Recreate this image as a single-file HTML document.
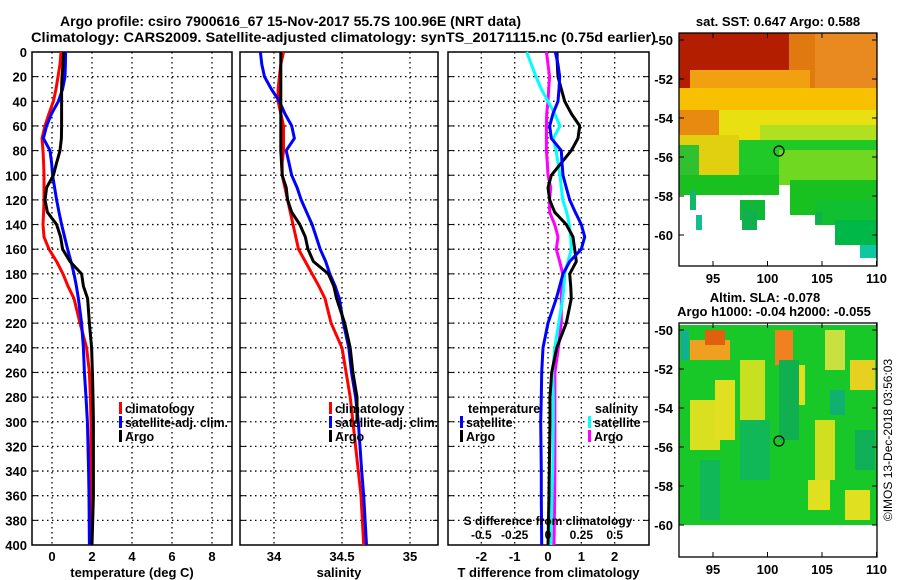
<!DOCTYPE html>
<html><head><meta charset="utf-8"><style>
body{margin:0;background:#fff;}
svg{display:block;font-family:"Liberation Sans",sans-serif;font-weight:bold;}
</style></head><body>
<svg id="c" width="900" height="580" viewBox="0 0 900 580">
<text x="60" y="26" font-size="14" textLength="461" lengthAdjust="spacingAndGlyphs">Argo profile: csiro 7900616_67 15-Nov-2017 55.7S 100.96E (NRT data)</text>
<text x="31" y="42" font-size="14" textLength="625" lengthAdjust="spacingAndGlyphs">Climatology: CARS2009. Satellite-adjusted climatology: synTS_20171115.nc (0.75d earlier)</text>
</svg>
<script>
const depths=[0,10,20,30,40,50,60,70,80,90,100,110,120,130,140,150,160,170,180,190,200,220,240,260,280,300,340,360,400];
const tClim=[0.45,0.4,0.3,0.2,0.07,-0.15,-0.35,-0.5,-0.45,-0.42,-0.4,-0.4,-0.4,-0.42,-0.45,-0.4,-0.15,0.23,0.55,0.8,1.1,1.4,1.73,1.87,1.92,1.95,1.95,1.95,1.95];
const tSat=[0.68,0.67,0.65,0.53,0.32,-0.02,-0.27,-0.43,-0.1,-0.02,0.03,0.13,0.23,0.35,0.48,0.63,0.78,0.95,1.1,1.22,1.32,1.48,1.57,1.62,1.7,1.77,1.83,1.85,1.87];
const tArgo=[0.58,0.55,0.5,0.48,0.48,0.48,0.48,0.47,0.4,0.23,0.07,-0.27,-0.35,-0.23,0.23,0.43,0.53,0.9,1.48,1.57,1.78,1.87,1.98,2.02,2.05,2.07,2.07,2.07,2.0];
const sClim=[34.07,34.05,34.04,34.03,34.03,34.05,34.07,34.07,34.07,34.06,34.06,34.08,34.10,34.12,34.14,34.16,34.18,34.23,34.28,34.33,34.375,34.42,34.50,34.53,34.56,34.58,34.62,34.64,34.66];
const sSat=[33.9,33.91,33.93,33.98,34.04,34.08,34.13,34.15,34.09,34.11,34.13,34.17,34.2,34.24,34.28,34.31,34.34,34.38,34.41,34.45,34.48,34.51,34.55,34.57,34.6,34.62,34.645,34.66,34.68];
const sArgo=[34.05,34.05,34.05,34.05,34.05,34.05,34.05,34.05,34.05,34.055,34.06,34.09,34.10,34.13,34.19,34.23,34.25,34.29,34.40,34.44,34.46,34.52,34.56,34.58,34.61,34.61,null,null,null];
const dTSat=[0.22,0.3,0.35,0.33,0.3,0.15,0.05,0.1,0.4,0.42,0.45,0.55,0.65,0.82,1.0,1.1,1.0,0.65,0.45,0.35,0.25,0,-0.15,-0.19,-0.2,-0.22,-0.2,-0.2,-0.19];
const dTArgo=[0.27,0.28,0.3,0.4,0.5,0.7,0.95,0.9,0.7,0.4,0.1,0,0.05,0.2,0.55,0.75,0.8,0.85,0.65,0.68,0.7,0.55,0.26,0.11,0.06,0.06,0.04,0.03,0.0];
const dSSat=[-0.16,-0.125,-0.09,-0.05,0,0.05,0.09,0.04,0.06,0.075,0.09,0.1,0.11,0.14,0.16,0.17,0.175,0.15,0.125,0.12,0.11,0.08,0.05,0.035,0.04,0.04,0.035,0.03,0.022];
const dSArgo=[-0.012,0,0.012,0.005,0,-0.01,-0.012,-0.012,-0.012,-0.005,0,0.02,0.012,0.012,0.05,0.075,0.062,0.088,0.11,0.1,0.1,0.1,0.078,0.052,0.052,0.052,0.052,0.05,0.045];
const depthTicks=[0,20,40,60,80,100,120,140,160,180,200,220,240,260,280,300,320,340,360,380,400];
const tTicks=[0,2,4,6,8];
const sTicks=[34,34.5,35];
const sTickLabels=["34","34.5","35"];
const dTTicks=[-2,-1,0,1,2];
const dSTicks=[-0.5,-0.25,0,0.25,0.5];
const latTicks=[-50,-52,-54,-56,-58,-60];
const lonTicks=[95,100,105,110];

const NS='http://www.w3.org/2000/svg';
const svg=document.getElementById('c');
function mk(tag,attrs,parent){const e=document.createElementNS(NS,tag);for(const k in attrs)e.setAttribute(k,attrs[k]);(parent||svg).appendChild(e);return e;}
const Y=d=>52+d*1.2325;
const panels=[
 {x0:32,x1:232,lo:-1,hi:9,name:'temperature'},
 {x0:240,x1:438,lo:33.75,hi:35.206,name:'salinity'},
 {x0:448,x1:649,lo:-3,hi:3.03,name:'difference'}];
function X(p,v){return p.x0+(v-p.lo)/(p.hi-p.lo)*(p.x1-p.x0);}
const Ys=v=>X(panels[2],v*4);

function drawPanel(p,ticks,labels,xlabel){
  const g=mk('g',{});
  
  
  depthTicks.forEach(d=>{if(d>0&&d<400)mk('line',{x1:p.x0,x2:p.x1,y1:Y(d),y2:Y(d),stroke:'#000','stroke-dasharray':'1.5 3.5','stroke-width':1.3},g);
    mk('line',{x1:p.x0,x2:p.x0+5,y1:Y(d),y2:Y(d),stroke:'#000'},g);mk('line',{x1:p.x1-5,x2:p.x1,y1:Y(d),y2:Y(d),stroke:'#000'},g);});
  ticks.forEach((t,i)=>{const x=X(p,t);mk('line',{x1:x,x2:x,y1:Y(0),y2:Y(400),stroke:'#000','stroke-dasharray':'1.5 3.5','stroke-width':1.3},g);
    const tx=mk('text',{x:x,y:561,'font-size':13,'text-anchor':'middle'},g);tx.textContent=labels[i];
    
    });
  mk('rect',{x:p.x0,y:Y(0),width:p.x1-p.x0,height:Y(400)-Y(0),fill:'none',stroke:'#000','stroke-width':1.5},g);
  const xl=mk('text',{x:(p.x0+p.x1)/2,y:577,'font-size':13,'text-anchor':'middle'},g);xl.textContent=xlabel;
  
  
}
function line(vals,fx,color,name){
  let d='';let pen=false;
  vals.forEach((v,i)=>{if(v===null){pen=false;return;}d+=(pen?'L':'M')+fx(v).toFixed(1)+' '+Y(depths[i]).toFixed(1);pen=true;});
  const e=mk('path',{d:d,fill:'none',stroke:color,'stroke-width':3,'stroke-linejoin':'round'});
  
  
}
drawPanel(panels[0],tTicks,tTicks.map(String),'temperature (deg C)');
drawPanel(panels[1],sTicks,sTickLabels,'salinity');
drawPanel(panels[2],dTTicks,dTTicks.map(String),'T difference from climatology');
depthTicks.forEach(d=>{const t=mk('text',{x:27,y:Y(d)+5,'font-size':13,'text-anchor':'end'});t.textContent=d;
  
  });

line(tClim,v=>X(panels[0],v),'#f00','temp-climatology-line');
line(tSat,v=>X(panels[0],v),'#00f','temp-satellite-line');
line(tArgo,v=>X(panels[0],v),'#000','temp-argo-line');
line(sClim,v=>X(panels[1],v),'#f00','sal-climatology-line');
line(sSat,v=>X(panels[1],v),'#00f','sal-satellite-line');
line(sArgo,v=>X(panels[1],v),'#000','sal-argo-line');
line(dSArgo,Ys,'#f0f','dsal-argo-line');
line(dSSat,Ys,'#0ff','dsal-satellite-line');
line(dTArgo,v=>X(panels[2],v),'#000','dtemp-argo-line');
line(dTSat,v=>X(panels[2],v),'#00f','dtemp-satellite-line');

function legend(x,y,color,label,name){
  const g=mk('g',{});
  
  
  mk('rect',{x:x,y:y-11,width:3,height:12,fill:color},g);
  const t=mk('text',{x:x+6,y:y,'font-size':12.5},g);t.textContent=label;
  if(label.length>15){t.setAttribute('textLength','103');t.setAttribute('lengthAdjust','spacingAndGlyphs');}
}
legend(119,413,'#f00','climatology','legend-climatology');
legend(119,427,'#00f','satellite-adj. clim.','legend-satellite-adj');
legend(119,441,'#000','Argo','legend-argo');
legend(329,413,'#f00','climatology','legend-climatology-sal');
legend(329,427,'#00f','satellite-adj. clim.','legend-satellite-adj-sal');
legend(329,441,'#000','Argo','legend-argo-sal');
let t=mk('text',{x:468,y:413,'font-size':12.5});t.textContent='temperature';

t=mk('text',{x:595,y:413,'font-size':12.5});t.textContent='salinity';

legend(460,427,'#00f','satellite','legend-t-satellite');
legend(460,441,'#000','Argo','legend-t-argo');
legend(588,427,'#0ff','satellite','legend-s-satellite');
legend(588,441,'#f0f','Argo','legend-s-argo');
t=mk('text',{x:548,y:525,'font-size':12,'text-anchor':'middle'});t.textContent='S difference from climatology';

dSTicks.forEach(s=>{const e=mk('text',{x:Ys(s),y:539,'font-size':12,'text-anchor':'middle'});e.textContent=String(s);
  });

function mapFrame(name){
  const g=mk('g',{});
  
  
  return g;
}
const LX=l=>713+(l-95)*10.9;
function mapAxes(g,y0,top,bot){
  mk('rect',{x:679,y:top,width:198,height:bot-top,fill:'none',stroke:'#000','stroke-width':1.3},g);
  latTicks.forEach(l=>{const y=y0+(-50-l)*19.5;mk('line',{x1:679,x2:684,y1:y,y2:y,stroke:'#000'},g);mk('line',{x1:872,x2:877,y1:y,y2:y,stroke:'#000'},g);
    const e=mk('text',{x:673,y:y+5,'font-size':13,'text-anchor':'end'},g);e.textContent=l;});
  lonTicks.forEach(l=>{const x=LX(l);mk('line',{x1:x,x2:x,y1:bot-5,y2:bot,stroke:'#000'},g);mk('line',{x1:x,x2:x,y1:top,y2:top+5,stroke:'#000'},g);
    const e=mk('text',{x:x,y:bot+17,'font-size':13,'text-anchor':'middle'},g);e.textContent=l;});
}
const g1=mapFrame('sst-map');
const R=(g,x,y,w,h,c)=>mk('rect',{x:x,y:y,width:w,height:h,fill:c},g);
R(g1,679,33,198,60,'#e07a10');
R(g1,679,33,110,55,'#b31d00');
R(g1,815,33,62,60,'#e88a20');
R(g1,690,70,120,25,'#f0a010');
R(g1,679,88,198,30,'#f7c000');
R(g1,679,110,40,35,'#e88a10');
R(g1,719,110,158,30,'#e8e010');
R(g1,760,125,117,30,'#b0e020');
R(g1,679,135,60,40,'#e0d010');
R(g1,679,145,20,45,'#30c030');
R(g1,739,140,138,40,'#20c828');
R(g1,779,150,98,35,'#70d820');
R(g1,679,175,100,20,'#18c020');
R(g1,790,180,87,35,'#18c020');
R(g1,815,200,62,25,'#10c030');
R(g1,740,200,25,20,'#10b838');
R(g1,835,220,42,25,'#00b848');
R(g1,860,245,17,13,'#10c8a0');
R(g1,690,190,6,20,'#10b868');R(g1,696,215,6,15,'#10c090');
R(g1,742,210,15,20,'#10b050');R(g1,816,212,6,12,'#10b050');
mk('circle',{cx:779,cy:151,r:5,fill:'none',stroke:'#000','stroke-width':1.2},g1);
mapAxes(g1,40,33,266);
t=mk('text',{x:778,y:26,'font-size':13,'text-anchor':'middle'});t.textContent='sat. SST: 0.647 Argo: 0.588';


const g2=mapFrame('sla-map');
R(g2,679,325,198,200,'#18c828');
[[690,340,40,20,'#f0a020'],[705,330,20,15,'#e06010'],[775,330,18,35,'#f08020'],[790,365,15,40,'#e0e020'],[690,400,30,50,'#d8e020'],[715,380,20,60,'#e0e020'],[740,360,25,60,'#c8e020'],[850,360,25,30,'#e8d020'],[825,330,20,40,'#c8e040'],[815,420,20,60,'#d0e020'],[808,480,22,30,'#e0e020'],[845,490,25,30,'#e0e020'],[750,450,15,30,'#d8e020'],[779,360,20,80,'#10b050'],[740,420,30,60,'#10b858'],[830,390,15,25,'#10b070'],[700,460,20,60,'#10b858'],[855,430,20,40,'#10b058'],[681,330,8,30,'#10b090']].forEach(a=>R(g2,...a));
mk('circle',{cx:779,cy:441,r:5,fill:'none',stroke:'#000','stroke-width':1.2},g2);
mapAxes(g2,330,323,557);
t=mk('text',{x:765,y:302,'font-size':13,'text-anchor':'middle'});t.textContent='Altim. SLA: -0.078';

t=mk('text',{x:774,y:316,'font-size':13,'text-anchor':'middle'});t.textContent='Argo h1000: -0.04 h2000: -0.055';

t=mk('text',{x:0,y:0,'font-size':12,'font-weight':'normal','text-anchor':'middle',transform:'translate(892,440) rotate(-90)'});t.textContent='©IMOS 13-Dec-2018 03:56:03';

</script>
</body></html>
